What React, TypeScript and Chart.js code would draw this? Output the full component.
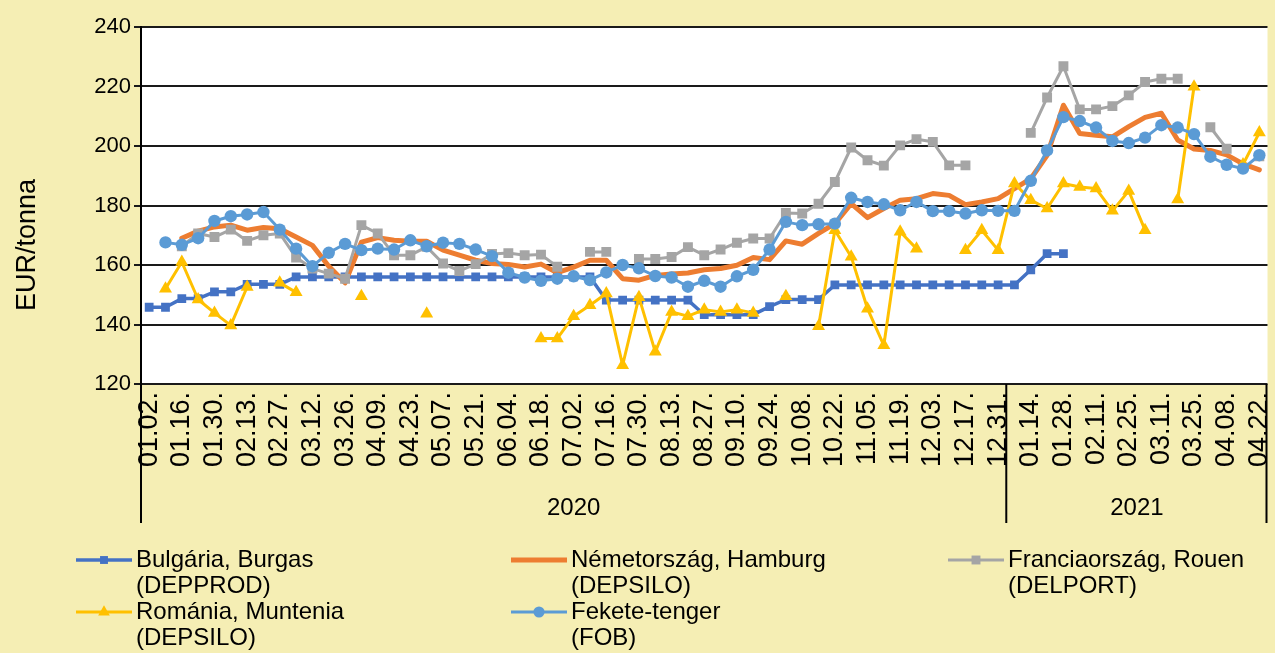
import React, { useEffect, useRef } from 'react';
import { Chart, registerables } from 'chart.js';

Chart.register(...registerables);

// ---------- data ----------
const weeks: string[] = [
  '01.02.', '01.09.', '01.16.', '01.23.', '01.30.', '02.06.', '02.13.', '02.20.', '02.27.', '03.05.',
  '03.12.', '03.19.', '03.26.', '04.02.', '04.09.', '04.16.', '04.23.', '04.30.', '05.07.', '05.14.',
  '05.21.', '05.28.', '06.04.', '06.11.', '06.18.', '06.25.', '07.02.', '07.09.', '07.16.', '07.23.',
  '07.30.', '08.06.', '08.13.', '08.20.', '08.27.', '09.03.', '09.10.', '09.17.', '09.24.', '10.01.',
  '10.08.', '10.15.', '10.22.', '10.29.', '11.05.', '11.12.', '11.19.', '11.26.', '12.03.', '12.10.',
  '12.17.', '12.24.', '12.31.',
  '01.07.', '01.14.', '01.21.', '01.28.', '02.04.', '02.11.', '02.18.', '02.25.', '03.04.', '03.11.',
  '03.18.', '03.25.', '04.01.', '04.08.', '04.15.', '04.22.',
];

const years: string[] = ['2020', '2021'];
const yearWeekCounts: number[] = [53, 16];

const yTickValues: number[] = [120, 140, 160, 180, 200, 220, 240];

const bulgaria: (number | null)[] = [
  145.8, 145.8, 148.7, 148.7, 151, 151, 153.5, 153.5, 153.5, 156,
  156, 156, 156, 156, 156, 156, 156, 156, 156, 156,
  156, 156, 156, 156, 156, 156, 156, 156, 148.2, 148.2,
  148.2, 148.2, 148.2, 148.2, 143.3, 143.3, 143.3, 143.3, 146, 148.4,
  148.4, 148.4, 153.3, 153.3, 153.3, 153.3, 153.3, 153.3, 153.3, 153.3,
  153.3, 153.3, 153.3, 153.3, 158.4, 163.8, 163.8, null, null, null,
  null, null, null, null, null, null, null, null, null,
];

const germany: (number | null)[] = [
  null, null, 169, 171.4, 172.8, 173.4, 171.7, 172.6, 172.2, 169.4,
  166.6, 159.6, 154, 167.7, 169.2, 168.3, 168, 168, 165, 163.3,
  161.6, 160.5, 160.2, 159.3, 160.3, 157.4, 159.3, 161.6, 161.6, 155.4,
  154.9, 156.5, 157, 157.3, 158.4, 158.8, 159.9, 162.5, 161.8, 168.1,
  167, 170.6, 173.9, 180.6, 175.9, 179, 181.8, 182.3, 184, 183.4,
  180.3, 181.2, 182.3, 185.7, 189, 196.9, 213.7, 204.2, 203.6, 203.1,
  206.5, 209.6, 211, 202, 199, 198.5, 197, 194, 192,
];

const france: (number | null)[] = [
  null, null, 166.3, 170.6, 169.4, 171.9, 168.1, 170, 170.6, 162.5,
  158.8, 157.1, 155.4, 173.4, 170.6, 163.3, 163.3, 166.1, 160.5, 158,
  160.3, 163.7, 164, 163.3, 163.5, 159.4, null, 164.4, 164.4, null,
  162, 162, 162.7, 166, 163.3, 165.2, 167.5, 168.9, 168.9, 177.5,
  177.3, 180.6, 187.9, 199.5, 195.2, 193.4, 200.2, 202.3, 201.4, 193.5,
  193.5, null, null, null, 204.4, 216.3, 226.8, 212.3, 212.3, 213.4,
  217, 221.5, 222.6, 222.6, null, 206.3, 199.1, null, 196.5,
];

const romania: (number | null)[] = [
  null, 152, 161, 148.4, 143.9, 139.7, 152.6, null, 154, 150.8,
  null, null, null, 149.5, null, null, null, 143.6, null, null,
  null, null, null, null, 135.3, 135.3, 142.8, 146.5, 150.4, 126.3,
  149.2, 130.8, 144.2, 142.8, 145, 144.2, 145, 143.9, null, 149.5,
  null, 139.4, 171.7, 162.8, 145.3, 133, 171.2, 165.5, null, null,
  165, 171.7, 165, 187.4, 181.8, 179, 187.4, 186.2, 185.7, 178.2,
  184.9, 171.7, null, 182, 219.9, null, null, 193.8, 204.5,
];

const blackSea: (number | null)[] = [
  null, 167.6, 166.8, 169, 174.8, 176.4, 177, 177.8, 171.9, 165.5,
  159.6, 164.1, 167.1, 165, 165.5, 165.2, 168.3, 166.3, 167.5, 167.1,
  165.2, 163, 157.4, 155.8, 154.7, 155.4, 156.2, 154.9, 157.5, 160,
  158.9, 156.3, 155.8, 152.7, 154.7, 152.7, 156.2, 158.4, 165.2, 174.5,
  173.4, 173.7, 173.9, 182.6, 181.2, 180.4, 178.4, 181.2, 178.1, 178.1,
  177.3, 178.4, 178.2, 178.2, 188.3, 198.5, 209.7, 208.4, 206.2, 201.7,
  201, 202.8, 207, 206.2, 204, 196.4, 193.7, 192.4, 196.9,
];

const seriesNames: string[][] = [
  ['Bulgária, Burgas', '(DEPPROD)'],
  ['Németország, Hamburg', '(DEPSILO)'],
  ['Franciaország, Rouen', '(DELPORT)'],
  ['Románia, Muntenia', '(DEPSILO)'],
  ['Fekete-tenger', '(FOB)'],
];

const yAxisTitle = 'EUR/tonna';

// ---------- styles ----------
const BG = '#F5EEB4';
const FONT = "'Liberation Sans', Arial, sans-serif";
const COLORS = ['#4472C4', '#ED7D31', '#A5A5A5', '#FFC000', '#5B9BD5'];
const MARKERS = ['rect', 'none', 'rect', 'triangle', 'circle'];
const LINE_W = [3.5, 5, 3, 3, 3];
const MARKER_R = [6.2, 0, 7, 7.5, 6.2];

const LEGEND_POS = [
  { x: 76, y: 560 },
  { x: 511, y: 560 },
  { x: 948, y: 560 },
  { x: 76, y: 612 },
  { x: 511, y: 612 },
];

function drawMarker(ctx: CanvasRenderingContext2D, style: string, x: number, y: number, r: number, color: string) {
  ctx.fillStyle = color;
  ctx.beginPath();
  if (style === 'rect') {
    const s = Math.SQRT2 * r;
    ctx.rect(x - s / 2, y - s / 2, s, s);
  } else if (style === 'triangle') {
    ctx.moveTo(x, y - r);
    ctx.lineTo(x + r * 0.866, y + r / 2);
    ctx.lineTo(x - r * 0.866, y + r / 2);
    ctx.closePath();
  } else if (style === 'circle') {
    ctx.arc(x, y, r, 0, Math.PI * 2);
  } else {
    return;
  }
  ctx.fill();
}

const decorPlugin = {
  id: 'decor',
  beforeDraw(chart: any) {
    const { ctx, chartArea: a, width, height } = chart;
    ctx.save();
    ctx.fillStyle = BG;
    ctx.fillRect(0, 0, width, height);
    ctx.fillStyle = '#FFFFFF';
    ctx.fillRect(a.left, a.top, a.right - a.left, a.bottom - a.top);
    ctx.restore();
  },
  afterDraw(chart: any) {
    const { ctx, chartArea: a } = chart;
    const xs = chart.scales.x;
    const catW = (xs.right - xs.left) / weeks.length;
    const groupBottom = 523;
    ctx.save();
    // group separators
    ctx.strokeStyle = '#000';
    ctx.lineWidth = 2;
    let start = 0;
    const bounds = [0];
    yearWeekCounts.forEach((c) => { start += c; bounds.push(start); });
    bounds.forEach((b) => {
      let px = xs.left + b * catW;
      if (b === weeks.length) px -= 1;
      ctx.beginPath();
      ctx.moveTo(px, a.bottom);
      ctx.lineTo(px, groupBottom);
      ctx.stroke();
    });
    // year labels
    ctx.fillStyle = '#000';
    ctx.font = `24px ${FONT}`;
    ctx.textAlign = 'center';
    ctx.textBaseline = 'middle';
    let s = 0;
    years.forEach((y, i) => {
      const cx = xs.left + (s + yearWeekCounts[i] / 2) * catW;
      ctx.fillText(y, cx, 508);
      s += yearWeekCounts[i];
    });
    // axis title
    ctx.save();
    ctx.font = `27px ${FONT}`;
    ctx.translate(28, 245);
    ctx.rotate(-Math.PI / 2);
    ctx.fillText(yAxisTitle, 0, 0);
    ctx.restore();
    // legend
    ctx.font = `24px ${FONT}`;
    ctx.textAlign = 'left';
    seriesNames.forEach((lines, i) => {
      const p = LEGEND_POS[i];
      ctx.strokeStyle = COLORS[i];
      ctx.lineWidth = LINE_W[i];
      ctx.beginPath();
      ctx.moveTo(p.x, p.y);
      ctx.lineTo(p.x + 56, p.y);
      ctx.stroke();
      drawMarker(ctx, MARKERS[i], p.x + 28, p.y, MARKER_R[i] * 0.9, COLORS[i]);
      ctx.fillStyle = '#000';
      lines.forEach((t, j) => ctx.fillText(t, p.x + 60, p.y + j * 26));
    });
    ctx.restore();
  },
};

const seriesData = [bulgaria, germany, france, romania, blackSea];

export default function App() {
  const ref = useRef<HTMLCanvasElement>(null);
  useEffect(() => {
    document.body.style.margin = '0';
    const datasets = seriesData.map((d, i) => ({
      label: seriesNames[i].join(' '),
      data: d,
      borderColor: COLORS[i],
      backgroundColor: COLORS[i],
      borderWidth: LINE_W[i],
      pointStyle: MARKERS[i] === 'none' ? false : MARKERS[i],
      pointRadius: MARKER_R[i],
      pointBorderWidth: 0,
      pointBackgroundColor: COLORS[i],
      pointBorderColor: COLORS[i],
      tension: 0,
      spanGaps: false,
      order: 4 - i,
      borderJoinStyle: 'round',
      borderCapStyle: 'round',
    }));
    const chart = new Chart(ref.current as HTMLCanvasElement, {
      type: 'line',
      data: { labels: weeks, datasets } as any,
      plugins: [decorPlugin],
      options: {
        responsive: false,
        animation: false,
        layout: { padding: { left: 0, top: 27, right: 0, bottom: 130 } },
        plugins: { legend: { display: false }, tooltip: { enabled: false } },
        scales: {
          x: {
            type: 'category',
            offset: true,
            grid: { display: false, drawTicks: false },
            border: { display: false },
            ticks: {
              autoSkip: false,
              minRotation: 90,
              maxRotation: 90,
              padding: 8,
              color: '#000',
              font: { family: FONT, size: 27 },
              callback: (_v: any, idx: number) => (idx % 2 === 0 ? weeks[idx] : ''),
            },
            afterFit: (scale: any) => {
              scale.height = 139;
              scale.paddingLeft = 0;
              scale.paddingRight = 0;
            },
          },
          y: {
            min: 120,
            max: 240,
            afterBuildTicks: (scale: any) => {
              scale.ticks = yTickValues.map((v) => ({ value: v }));
            },
            grid: { color: '#1a1a1a', lineWidth: 2, tickLength: 7, drawTicks: true },
            border: { display: true, color: '#000', width: 2 },
            ticks: {
              padding: 3,
              color: '#000',
              font: { family: FONT, size: 22 },
            },
            afterFit: (scale: any) => {
              scale.width = 141;
            },
          },
        },
      } as any,
    });
    return () => chart.destroy();
  }, []);
  return (
    <div style={{ width: 1275, height: 653, background: BG }}>
      <canvas ref={ref} width={1275} height={653} />
    </div>
  );
}
